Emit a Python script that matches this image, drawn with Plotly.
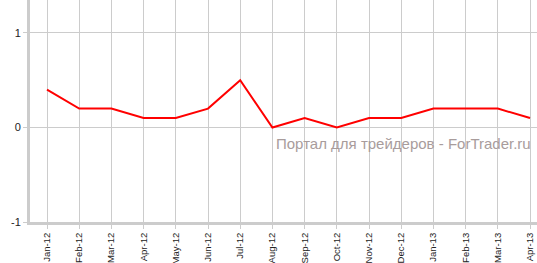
import plotly.graph_objects as go

months = ["Jan-12", "Feb-12", "Mar-12", "Apr-12", "May-12", "Jun-12", "Jul-12", "Aug-12",
          "Sep-12", "Oct-12", "Nov-12", "Dec-12", "Jan-13", "Feb-13", "Mar-13", "Apr-13"]
values = [0.4, 0.2, 0.2, 0.1, 0.1, 0.2, 0.5, 0.0, 0.1, 0.0, 0.1, 0.1, 0.2, 0.2, 0.2, 0.1]
y_ticks = [-1, 0, 1]
watermark = "Портал для трейдеров - ForTrader.ru"

idx = list(range(len(months)))

fig = go.Figure()
fig.add_trace(go.Scatter(x=idx, y=values, mode="lines",
                         line=dict(color="#ff0000", width=2), hoverinfo="skip"))

fig.update_layout(
    width=537, height=263,
    margin=dict(l=30, r=0, t=0, b=41),
    paper_bgcolor="white", plot_bgcolor="white",
    showlegend=False,
    font=dict(family="Liberation Sans, Arial, sans-serif", size=11, color="#222222"),
    annotations=[dict(text=watermark, xref="paper", yref="paper", x=0.736, y=0.355,
                      xanchor="center", yanchor="middle",
                      showarrow=False, font=dict(family="Liberation Sans, Arial, sans-serif",
                                                 size=15, color="#a89c9c"))],
)
fig.update_xaxes(
    range=[-0.528, 15.217], tickvals=idx, ticktext=months, tickangle=-90,
    showgrid=True, gridcolor="#cccccc", gridwidth=1,
    showline=True, linecolor="#cccccc", linewidth=3,
    ticks="outside", ticklen=4, tickcolor="#cccccc",
    tickfont=dict(size=9.5, color="#222222"), zeroline=False, automargin=False,
)
fig.update_yaxes(
    range=[-1, 1.349], tickvals=y_ticks, ticktext=[str(v) for v in y_ticks],
    showgrid=True, gridcolor="#cccccc", gridwidth=1,
    showline=True, linecolor="#cccccc", linewidth=3,
    ticks="outside", ticklen=4, tickcolor="#cccccc",
    zeroline=True, zerolinecolor="#cccccc", zerolinewidth=1,
    tickfont=dict(size=11, color="#222222"), automargin=False,
)

fig.write_html("out.html")
